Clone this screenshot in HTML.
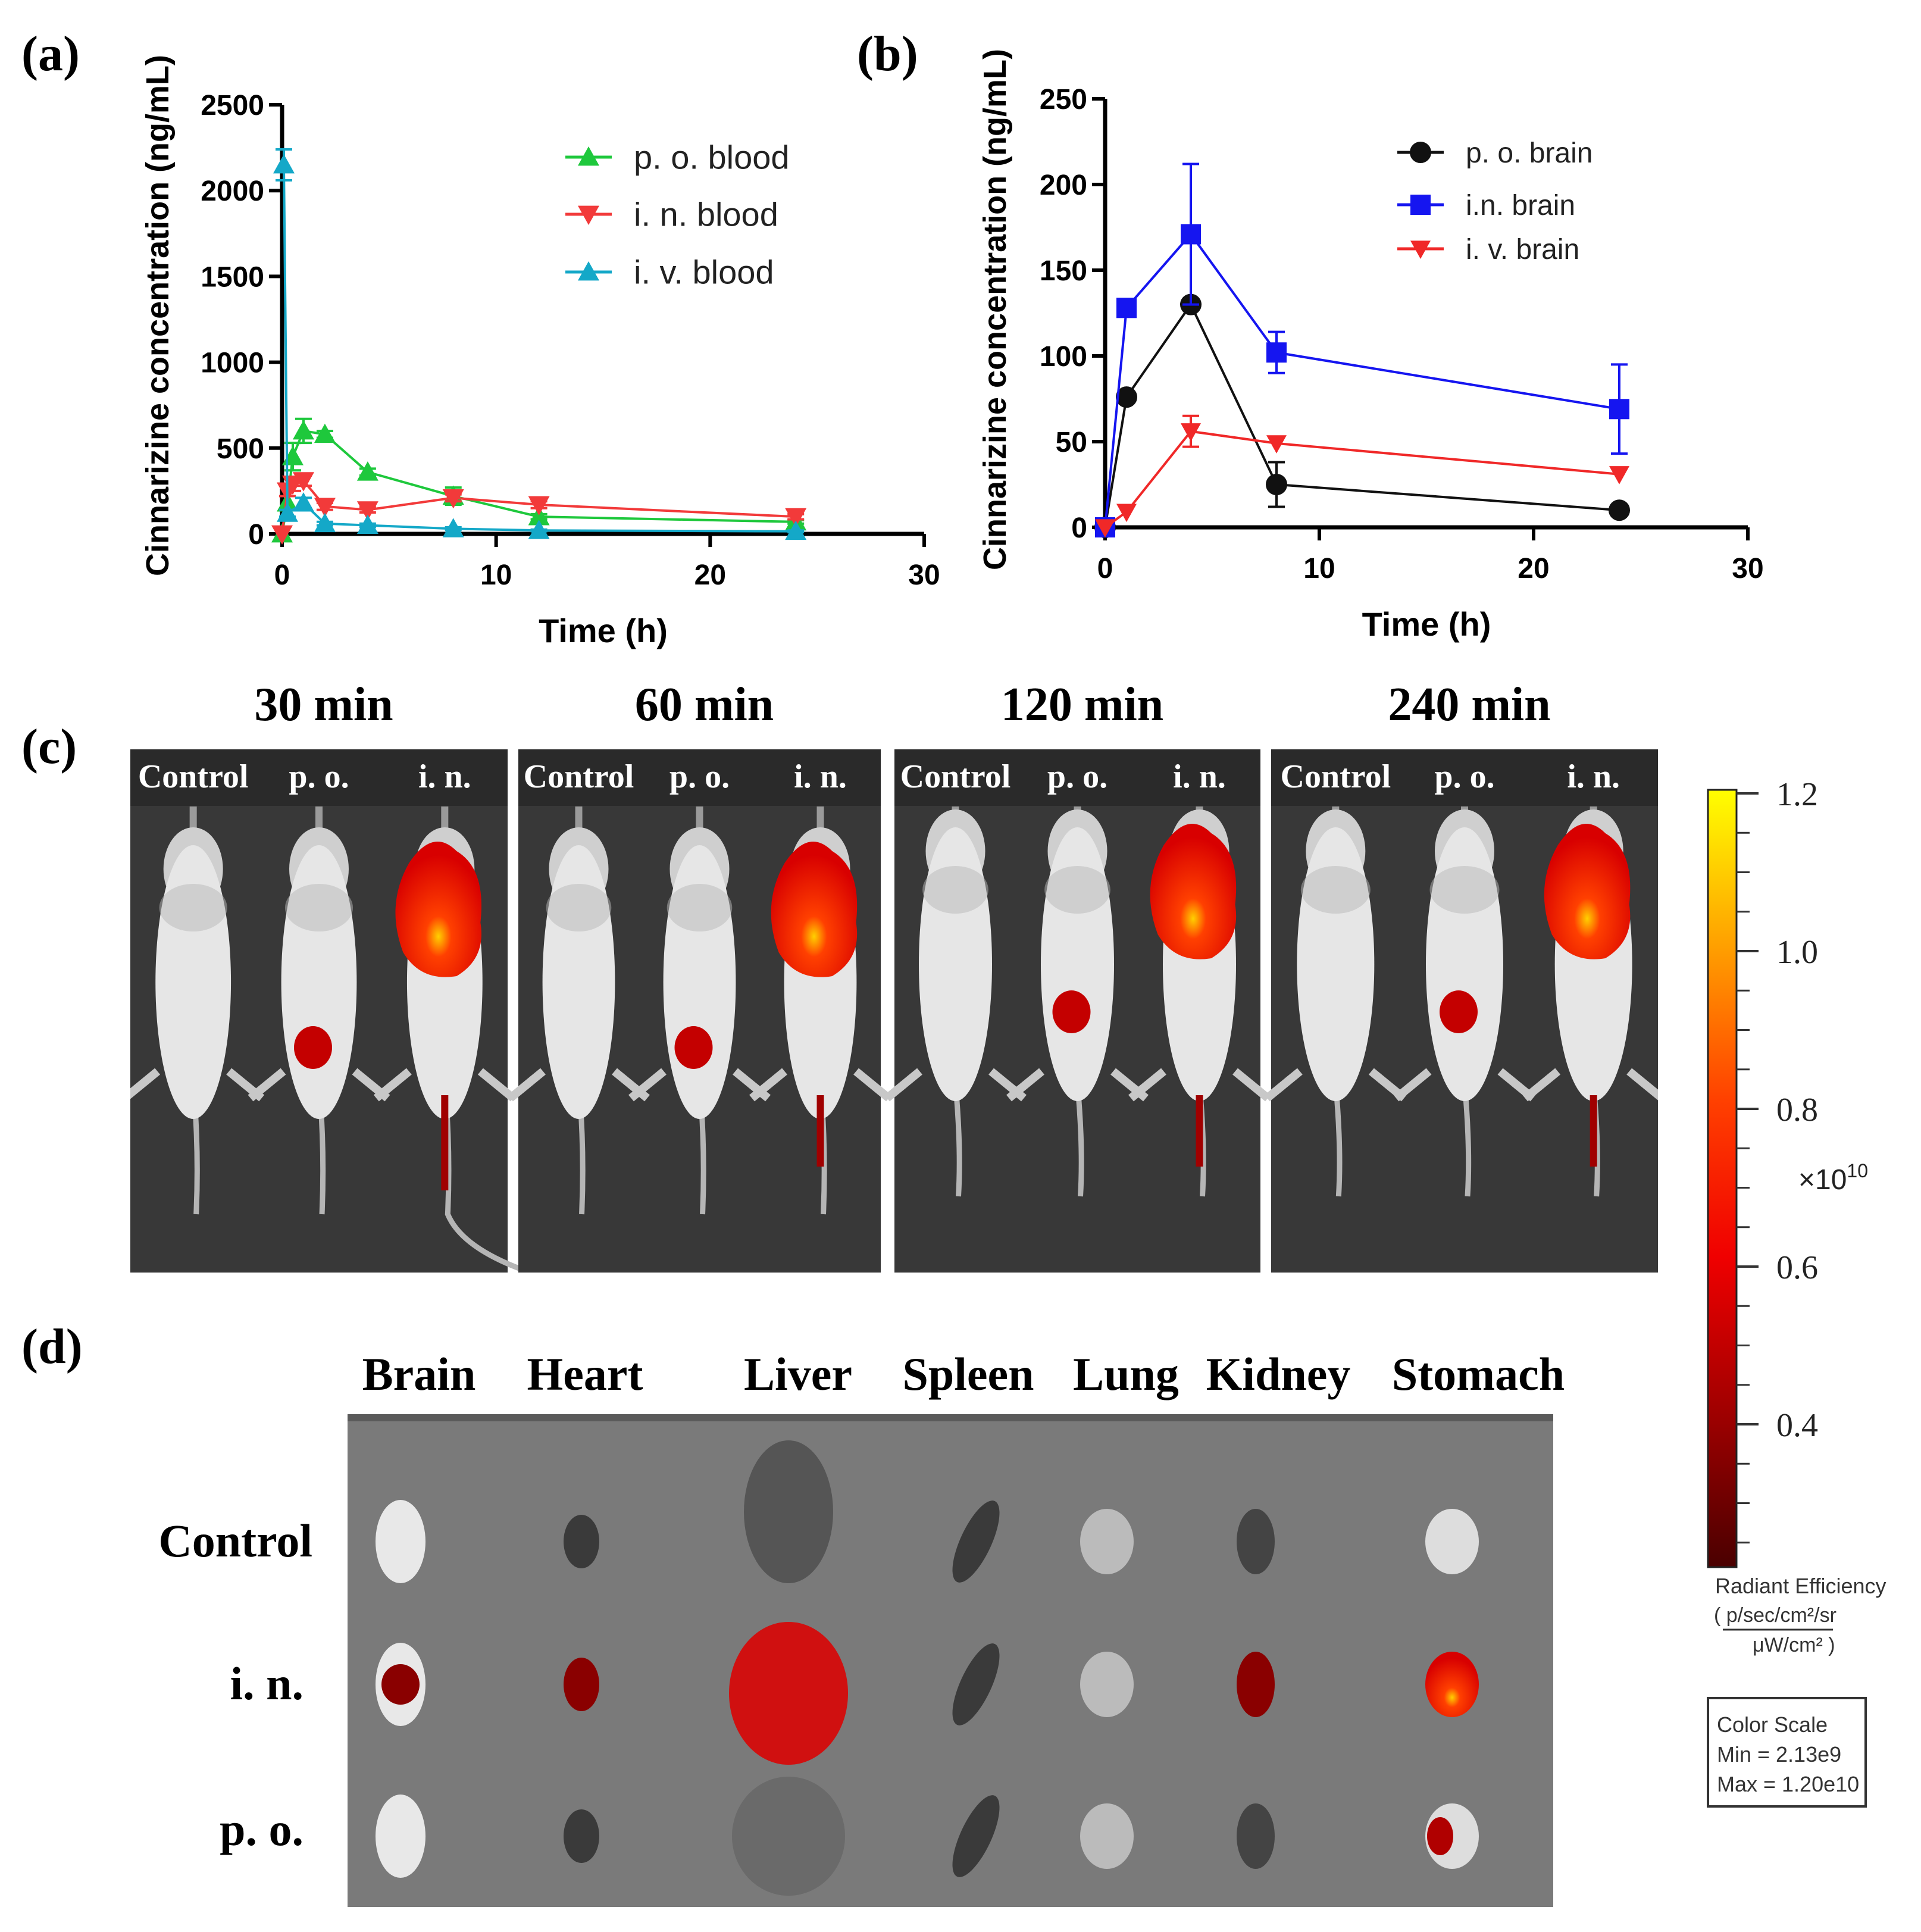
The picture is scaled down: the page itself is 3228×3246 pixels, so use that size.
<!DOCTYPE html>
<html><head><meta charset="utf-8">
<style>
html,body{margin:0;padding:0;background:#fff;}
svg{display:block;}
.sans{font-family:"Liberation Sans",Arial,sans-serif;}
.serif{font-family:"Liberation Serif","Times New Roman",serif;}
</style></head>
<body>
<svg id="fig" width="3228" height="3246" viewBox="0 0 3228 3246" xmlns="http://www.w3.org/2000/svg">
<defs>
<linearGradient id="cbar" x1="0" y1="0" x2="0" y2="1">
<stop offset="0" stop-color="#ffff00"/>
<stop offset="0.2" stop-color="#ffa000"/>
<stop offset="0.4" stop-color="#ff4000"/>
<stop offset="0.6" stop-color="#f00000"/>
<stop offset="0.8" stop-color="#a00000"/>
<stop offset="1" stop-color="#4a0000"/>
</linearGradient>
<radialGradient id="hot" cx="0.5" cy="0.7" r="0.6">
<stop offset="0" stop-color="#ffd000"/>
<stop offset="0.25" stop-color="#ff4000"/>
<stop offset="1" stop-color="#d80000"/>
</radialGradient>
<clipPath id="clipC"><rect x="219" y="1259" width="2567" height="879"/></clipPath>
</defs>
<text class="serif" x="36" y="118" font-size="84" font-weight="bold">(a)</text>
<text class="serif" x="1440" y="118" font-size="84" font-weight="bold">(b)</text>
<text class="serif" x="36" y="1282" font-size="84" font-weight="bold">(c)</text>
<text class="serif" x="36" y="2290" font-size="84" font-weight="bold">(d)</text>
<g id="chartA"></g>
<g id="chartB"></g>
<g id="panelCLabels"></g>
<g id="panelC" clip-path="url(#clipC)"></g>
<g id="panelD"></g>
<g>
<rect x="2870" y="1327" width="48" height="1306" fill="url(#cbar)" stroke="#222" stroke-width="3"/>
<g id="cbTicks"></g>
<text class="sans" x="3022" y="1998" font-size="48" fill="#222">×10<tspan font-size="32" dy="-20">10</tspan></text>
<text class="sans" x="2882" y="2677" font-size="36" fill="#333">Radiant Efficiency</text>
<text class="sans" x="2880" y="2725" font-size="34" fill="#333">(  p/sec/cm²/sr</text>
<line x1="2895" y1="2738" x2="3080" y2="2738" stroke="#333" stroke-width="3"/>
<text class="sans" x="2945" y="2775" font-size="34" fill="#333">μW/cm²  )</text>
<rect x="2870" y="2853" width="265" height="182" fill="#fff" stroke="#333" stroke-width="4"/>
<text class="sans" x="2885" y="2910" font-size="36" fill="#333">Color Scale</text>
<text class="sans" x="2885" y="2960" font-size="36" fill="#333">Min = 2.13e9</text>
<text class="sans" x="2885" y="3010" font-size="36" fill="#333">Max = 1.20e10</text>
</g>
</svg>
<script>
const timesA = [0, 0.25, 0.5, 1, 2, 4, 8, 12, 24];
const poBlood = [0, 180, 450, 600, 580, 360, 220, 100, 70];
const poBloodErr = [0, 40, 80, 70, 20, 20, 50, 15, 10];
const inBlood = [0, 250, 290, 310, 160, 140, 210, 170, 100];
const inBloodErr = [0, 30, 40, 30, 20, 15, 20, 20, 15];
const timesIV = [0.083, 0.25, 1, 2, 4, 8, 12, 24];
const ivBlood = [2150, 120, 180, 60, 50, 30, 20, 15];
const ivBloodErr = [90, 20, 30, 10, 10, 8, 5, 5];
const ticksAx = [0, 10, 20, 30];
const ticksAy = [0, 500, 1000, 1500, 2000, 2500];
const timesB = [0, 1, 4, 8, 24];
const poBrain = [0, 76, 130, 25, 10];
const poBrainErr = [0, 0, 0, 13, 0];
const inBrain = [0, 128, 171, 102, 69];
const inBrainErr = [0, 0, 41, 12, 26];
const ivBrain = [0, 9, 56, 49, 31];
const ivBrainErr = [0, 0, 9, 0, 0];
const ticksBx = [0, 10, 20, 30];
const ticksBy = [0, 50, 100, 150, 200, 250];
const cbTickLabels = [1.2, 1.0, 0.8, 0.6, 0.4];

const NS = "http://www.w3.org/2000/svg";
function mk(tag, attrs, parent){const e=document.createElementNS(NS,tag);for(const k in attrs)e.setAttribute(k,attrs[k]);if(parent)parent.appendChild(e);return e;}

function marker(g, type, x, y, color, s){
  let e;
  if(type==='up') e=mk('polygon',{points:`${x},${y-s} ${x-s},${y+s*0.8} ${x+s},${y+s*0.8}`,fill:color},g);
  else if(type==='down') e=mk('polygon',{points:`${x},${y+s} ${x-s},${y-s*0.8} ${x+s},${y-s*0.8}`,fill:color},g);
  else if(type==='sq') e=mk('rect',{x:x-s,y:y-s,width:2*s,height:2*s,fill:color},g);
  else e=mk('circle',{cx:x,cy:y,r:s,fill:color,stroke:'#111','stroke-width':2},g);
  return e;
}

function chart(gid, cfg){
  const g=document.getElementById(gid);
  const X=v=>cfg.x0+(v-cfg.xmin)/(cfg.xmax-cfg.xmin)*(cfg.x1-cfg.x0);
  const Y=v=>cfg.y0-(v-cfg.ymin)/(cfg.ymax-cfg.ymin)*(cfg.y0-cfg.y1);
  const ax=mk('path',{d:`M${cfg.x0},${cfg.y1} V${cfg.y0} H${cfg.x1}`,fill:'none',stroke:'#000','stroke-width':7},g);
  
  
  cfg.yt.forEach(v=>{
    mk('line',{x1:cfg.x0-22,y1:Y(v),x2:cfg.x0,y2:Y(v),stroke:'#000','stroke-width':6},g);
    const t=mk('text',{x:cfg.x0-30,y:Y(v)+17,'text-anchor':'end','font-size':48,'font-weight':'bold',class:'sans'},g);
    t.textContent=v;
    
    
  });
  cfg.xt.forEach(v=>{
    mk('line',{x1:X(v),y1:cfg.y0,x2:X(v),y2:cfg.y0+22,stroke:'#000','stroke-width':6},g);
    const t=mk('text',{x:X(v),y:cfg.y0+85,'text-anchor':'middle','font-size':48,'font-weight':'bold',class:'sans'},g);
    t.textContent=v;
    
    
  });
  const xt=mk('text',{x:(cfg.x0+cfg.x1)/2,y:cfg.y0+182,'text-anchor':'middle','font-size':56,'font-weight':'bold',class:'sans'},g);
  xt.textContent='Time (h)';
  
  
  const yt=mk('text',{x:0,y:0,transform:`translate(${cfg.ytx},${cfg.yty}) rotate(-90)`,'text-anchor':'middle','font-size':54,'font-weight':'bold',class:'sans'},g);
  yt.textContent='Cinnarizine concentration (ng/mL)';
  
  
  cfg.series.forEach((s,i)=>{
    const sg=mk('g',{},g);
    
    
    mk('polyline',{points:s.t.map((t,j)=>X(t)+','+Y(s.v[j])).join(' '),fill:'none',stroke:s.color,'stroke-width':4},sg);
    s.t.forEach((t,j)=>{
      if(s.e[j]>0){
        const x=X(t);
        mk('path',{d:`M${x},${Y(s.v[j]-s.e[j])} V${Y(s.v[j]+s.e[j])} M${x-14},${Y(s.v[j]+s.e[j])} h28 M${x-14},${Y(s.v[j]-s.e[j])} h28`,stroke:s.color,'stroke-width':4,fill:'none'},sg);
      }
      const m=marker(sg,s.m,X(t),Y(s.v[j]),s.color,cfg.ms);
      
      
    });
    const lg=mk('g',{},g);
    
    
    const ly=cfg.legY[i];
    mk('line',{x1:cfg.legX,y1:ly,x2:cfg.legX+78,y2:ly,stroke:s.color,'stroke-width':5},lg);
    marker(lg,s.m,cfg.legX+39,ly,s.color,cfg.ms);
    const lt=mk('text',{x:cfg.legX+115,y:ly+cfg.legFs*0.35,'font-size':cfg.legFs,class:'sans',fill:'#222'},lg);
    lt.textContent=s.label;
  });
}

chart('chartA',{x0:474,x1:1553,y0:897,y1:176,xmin:0,xmax:30,ymin:0,ymax:2500,xt:ticksAx,yt:ticksAy,
  ytx:283,yty:530,ms:18,legX:950,legY:[264,360,457],legFs:56,
  series:[
   {key:'po-blood',label:'p. o. blood',t:timesA,v:poBlood,e:poBloodErr,color:'#1ec83c',m:'up'},
   {key:'in-blood',label:'i. n. blood',t:timesA,v:inBlood,e:inBloodErr,color:'#f23a3a',m:'down'},
   {key:'iv-blood',label:'i. v. blood',t:timesIV,v:ivBlood,e:ivBloodErr,color:'#14a8c8',m:'up'}]});
chart('chartB',{x0:1857,x1:2937,y0:886,y1:166,xmin:0,xmax:30,ymin:0,ymax:250,xt:ticksBx,yt:ticksBy,
  ytx:1690,yty:520,ms:17,legX:2348,legY:[256,344,418],legFs:48,
  series:[
   {key:'po-brain',label:'p. o. brain',t:timesB,v:poBrain,e:poBrainErr,color:'#111',m:'circ'},
   {key:'in-brain',label:'i.n. brain',t:timesB,v:inBrain,e:inBrainErr,color:'#1515f0',m:'sq'},
   {key:'iv-brain',label:'i. v. brain',t:timesB,v:ivBrain,e:ivBrainErr,color:'#f02828',m:'down'}]});

(function(){
  const g=document.getElementById('cbTicks');
  const Yc=v=>1333+(1.2-v)/0.2*265;
  for(let v=0.25;v<=1.2001;v+=0.05){mk('line',{x1:2918,y1:Yc(v),x2:2940,y2:Yc(v),stroke:'#333','stroke-width':3},g);}
  cbTickLabels.forEach(v=>{
    mk('line',{x1:2918,y1:Yc(v),x2:2955,y2:Yc(v),stroke:'#333','stroke-width':4},g);
    const t=mk('text',{x:2985,y:Yc(v)+20,'font-size':56,class:'serif',fill:'#222'},g);
    t.textContent=v.toFixed(1);
    
    
  });
})();

const timeLabels=['30 min','60 min','120 min','240 min'];
const groupLabels=['Control','p. o.','i. n.'];
(function(){
  const g=document.getElementById('panelC');
  const lg=document.getElementById('panelCLabels');
  const boxes=[[219,853],[871,1480],[1503,2118],[2136,2786]];
  const top=1259,bot=2138;
  boxes.forEach((b,i)=>{
    const bg=mk('g',{},g);
    
    
    const w=b[1]-b[0];
    mk('rect',{x:b[0],y:top,width:w,height:bot-top,fill:'#383838'},bg);
    mk('rect',{x:b[0],y:top,width:w,height:95,fill:'#2a2a2a'},bg);
    const tl=mk('text',{x:(b[0]+b[1])/2+8,y:1210,'text-anchor':'middle','font-size':80,'font-weight':'bold',class:'serif'},lg);
    tl.textContent=timeLabels[i];
    
    
    const cw=w/3;
    for(let k=0;k<3;k++){
      const cx=b[0]+cw*(k+0.5);
      const lab=mk('text',{x:cx,y:1323,'text-anchor':'middle','font-size':56,'font-weight':'bold',fill:'#fff',class:'serif'},bg);
      lab.textContent=groupLabels[k];
      const hy= i>=2?1370:1400;
      const tailEnd = i>=2?2010:2040;
      mk('path',{d:`M${cx},1820 Q${cx+10},1930 ${cx+5},${tailEnd}`+(k==2&&i==0?` Q${cx+30},2100 ${cx+150},2140`:''),stroke:'#b5b5b5','stroke-width':9,fill:'none'},bg);
      mk('path',{d:`M${cx-60},1800 l-55,45 M${cx+60},1800 l55,45`,stroke:'#c8c8c8','stroke-width':14,fill:'none'},bg);
      mk('rect',{x:cx-6,y:1355,width:12,height:hy-1340,fill:'#9a9a9a'},bg);
      mk('ellipse',{cx:cx,cy:hy+60,rx:50,ry:70,fill:'#cfcfcf'},bg);
      mk('ellipse',{cx:cx,cy:hy+250,rx:cw*0.3,ry:230,fill:'#e6e6e6'},bg);
      mk('ellipse',{cx:cx,cy:hy+125,rx:cw*0.27,ry:40,fill:'#b8b8b8',opacity:0.5},bg);
      if(k==2){
        const bl=mk('path',{d:`M${cx-60},${hy+50} q40,-60 80,-20 q50,30 40,120 q10,60 -40,90 q-60,10 -90,-40 q-30,-80 10,-150z`,fill:'url(#hot)'},bg);
        
        
        mk('rect',{x:cx-6,y:1840,width:12,height:i==0?160:120,fill:'#a00000'},bg);
      }
      if(k==1){
        const bl=mk('ellipse',{cx:cx-10,cy:hy+(i>=2?330:360),rx:32,ry:36,fill:'#c40000'},bg);
        
        
      }
    }
  });
})();

const organLabels=['Brain','Heart','Liver','Spleen','Lung','Kidney','Stomach'];
const rowLabels=['Control','i. n.','p. o.'];
(function(){
  const g=document.getElementById('panelD');
  mk('rect',{x:584,y:2376,width:2026,height:828,fill:'#7a7a7a'},g);
  mk('rect',{x:584,y:2376,width:2026,height:12,fill:'#5a5a5a'},g);
  const olx=[704,983,1341,1627,1892,2148,2484];
  organLabels.forEach((o,i)=>{
    const t=mk('text',{x:olx[i],y:2335,'text-anchor':'middle','font-size':78,'font-weight':'bold',class:'serif'},g);
    t.textContent=o;
    
    
  });
  const rly=[2615,2855,3100];
  rowLabels.forEach((r,i)=>{
    const t=mk('text',{x:i==0?525:510,y:rly[i],'text-anchor':'end','font-size':78,'font-weight':'bold',class:'serif'},g);
    t.textContent=r;
    
    
  });
  const cx=[673,977,1325,1640,1860,2110,2440];
  const cy=[2590,2830,3085];
  const sizes=[[42,70,'#e8e8e8'],[30,45,'#3a3a3a'],[80,100,'#555'],[26,75,'#3a3a3a'],[45,55,'#bbb'],[32,55,'#444'],[45,55,'#ddd']];
  for(let r=0;r<3;r++)for(let c=0;c<7;c++){
    let [rx,ry,col]=sizes[c];
    let fill=col;
    let ccy=cy[r];
    if(c==2&&r==0){ccy=2540;rx=75;ry=120;}
    if(c==2&&r==2){rx=95;ry=100;fill='#6a6a6a';}
    if(r==1&&[0,1,2,5,6].includes(c)) fill= c==6?'url(#hot)':(c==2?'#d01010':'#8a0000');
    if(r==1&&c==2){rx=100;ry=120;ccy=2845;}
    if(r==1&&c==0){mk('ellipse',{cx:cx[c],cy:cy[r],rx:rx,ry:ry,fill:col},g);rx=32;ry=34;}
    const e=mk('ellipse',{cx:cx[c],cy:ccy,rx:rx,ry:ry,fill:fill,transform:c==3?`rotate(25 ${cx[c]} ${cy[r]})`:''},g);
    
    
    if(r==2&&c==6) mk('ellipse',{cx:cx[c]-20,cy:cy[r],rx:22,ry:32,fill:'#b00000'},g);
  }
})();
</script>
</body></html>
